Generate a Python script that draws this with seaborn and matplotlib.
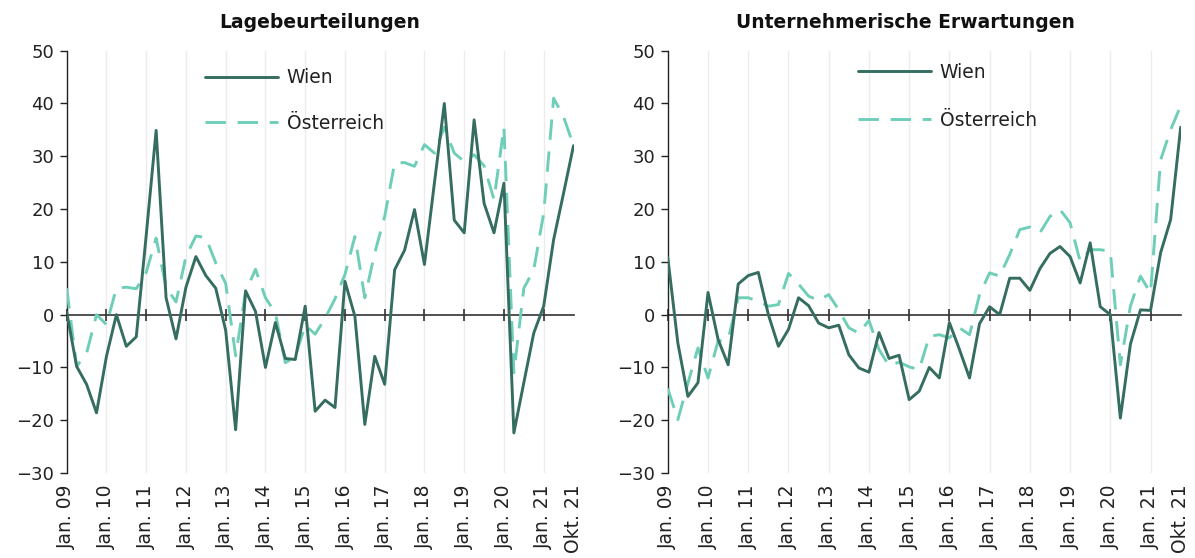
import numpy as np
import pandas as pd
import matplotlib
matplotlib.use("Agg")
import matplotlib.pyplot as plt
import seaborn as sns

# Quarterly data, Jan. 09 (Q1 2009) to Okt. 21 (Q4 2021)
quarters = [f"{y}Q{q}" for y in range(2009, 2022) for q in range(1, 5)]

lage_wien = [0.5, -9.8, -13.2, -18.6, -7.9, 0.0, -6.0, -4.2, 15.0, 34.9,
             3.2, -4.6, 5.2, 11.0, 7.4, 5.0, -3.0, -21.8, 4.5, 0.6,
             -10.0, -1.5, -8.3, -8.5, 1.6, -18.3, -16.2, -17.6, 6.3, -0.3,
             -20.8, -7.9, -13.2, 8.5, 12.2, 19.9, 9.5, 24.9, 40.0, 17.9,
             15.5, 36.9, 21.1, 15.5, 24.9, -22.4, -12.9, -3.5, 1.6, 14.2,
             23.0, 32.0]
lage_oest = [5.0, -9.8, -7.3, 0.0, -1.9, 5.0, 5.2, 4.9, 8.0, 14.5,
             5.2, 2.4, 11.0, 14.9, 14.6, 9.8, 5.9, -7.8, 4.3, 8.6,
             3.2, 0.3, -9.1, -8.0, -2.0, -3.7, -0.7, 3.0, 7.6, 14.8,
             3.2, 11.7, 18.6, 28.7, 28.8, 28.1, 32.2, 30.6, 35.5, 30.6,
             29.0, 30.3, 28.2, 21.8, 35.5, -11.0, 5.0, 8.5, 19.2, 41.0,
             37.5, 32.0]

erw_wien = [10.8, -5.4, -15.5, -12.9, 4.2, -4.7, -9.5, 5.8, 7.4, 8.0,
            0.0, -6.0, -2.8, 3.2, 1.7, -1.6, -2.5, -2.0, -7.6, -10.1,
            -10.9, -3.4, -8.3, -7.7, -16.1, -14.5, -10.0, -12.0, -1.5, -6.6,
            -12.0, -1.7, 1.5, 0.0, 6.9, 6.9, 4.6, 8.7, 11.6, 12.9,
            11.0, 6.0, 13.6, 1.5, 0.0, -19.6, -5.6, 0.9, 0.8, 11.7,
            18.0, 35.5]
erw_oest = [-14.0, -19.9, -13.0, -6.3, -12.0, -5.0, -4.7, 3.2, 3.2, 2.5,
            1.6, 1.9, 7.8, 5.8, 3.5, 2.7, 3.8, 0.9, -2.5, -3.5,
            -1.1, -6.6, -9.7, -9.0, -9.9, -10.4, -4.1, -3.8, -4.4, -2.5,
            -3.8, 3.8, 7.9, 7.3, 11.4, 16.1, 16.6, 15.5, 18.6, 19.9,
            17.4, 10.1, 12.3, 12.3, 12.0, -9.5, 1.6, 7.3, 4.1, 29.3,
            35.0, 39.6]

tick_pos = list(range(0, 52, 4)) + [51]
tick_labels = [f"Jan. {y:02d}" for y in range(9, 22)] + ["Okt. 21"]
titles = ["Lagebeurteilungen", "Unternehmerische Erwartungen"]
series_names = ["Wien", "Österreich"]

c_wien = "#356d61"
c_oest = "#6fceb8"

sns.set_theme(style="white")
plt.rcParams["font.family"] = ["DejaVu Sans"]
plt.rcParams["axes.unicode_minus"] = True

fig = plt.figure(figsize=(11.95, 5.58), dpi=100)
ax1 = fig.add_axes([66.7 / 1195, 85 / 558, 506.8 / 1195, 422.3 / 558])
ax2 = fig.add_axes([667.8 / 1195, 85 / 558, 512.9 / 1195, 422.3 / 558])

x = np.arange(len(quarters))
panels = [
    dict(ax=ax1, wien=lage_wien, oest=lage_oest, title=titles[0], tx=0.5,
         lpos=(0.273, 0.958), lspace=1.4),
    dict(ax=ax2, wien=erw_wien, oest=erw_oest, title=titles[1], tx=0.463,
         lpos=(0.371, 0.972), lspace=1.55),
]

for p in panels:
    ax = p["ax"]
    df = pd.DataFrame({"x": x, "Wien": p["wien"], "Österreich": p["oest"]})
    sns.lineplot(data=df, x="x", y="Wien", ax=ax, color=c_wien, lw=2.1,
                 label=series_names[0], zorder=4)
    sns.lineplot(data=df, x="x", y="Österreich", ax=ax, color=c_oest, lw=2.1,
                 linestyle=(0, (7, 4)), label=series_names[1], zorder=3)
    ax.set_xlim(0, 51)
    ax.set_ylim(-30, 50)
    ax.set_yticks(range(-30, 51, 10))
    ax.set_yticklabels([f"{v}".replace("-", "\u2212") for v in range(-30, 51, 10)])
    ax.set_xticks(tick_pos)
    ax.set_xticklabels(tick_labels, rotation=90)
    ax.set_xlabel("")
    ax.set_ylabel("")
    for s in ["top", "right", "bottom"]:
        ax.spines[s].set_visible(False)
    ax.spines["left"].set_color("#222222")
    ax.spines["left"].set_linewidth(1.0)
    ax.tick_params(axis="y", left=True, length=5, width=1.0, color="#222222",
                   labelsize=13, pad=4, labelcolor="#222222")
    ax.tick_params(axis="x", bottom=False, length=0, labelsize=13.5, pad=8,
                   labelcolor="#222222")
    # vertical grid at each January
    for g in tick_pos[1:-1]:
        ax.axvline(g, color="#ececec", lw=1.0, zorder=0.5)
    # zero line with year ticks
    sec = ax.secondary_xaxis(30 / 80)
    sec.set_zorder(2)
    sec.set_xticks(tick_pos[:-1])
    sec.set_xticklabels([])
    sec.spines["bottom"].set_color("#333333")
    sec.spines["bottom"].set_linewidth(1.2)
    sec.spines["top"].set_visible(False)
    sec.tick_params(axis="x", bottom=True, top=False, direction="inout",
                    length=9, width=1.2, color="#333333")
    leg = ax.legend(loc="upper left", bbox_to_anchor=p["lpos"], frameon=False,
                    fontsize=13.5, handlelength=3.9, handletextpad=0.45,
                    labelspacing=p["lspace"], borderpad=0, borderaxespad=0)
    for t in leg.get_texts():
        t.set_color("#222222")
    ax.set_title(p["title"], fontsize=13.5, fontweight="bold", pad=16, x=p["tx"],
                 color="#111111")

fig.savefig("out.png", dpi=100)
